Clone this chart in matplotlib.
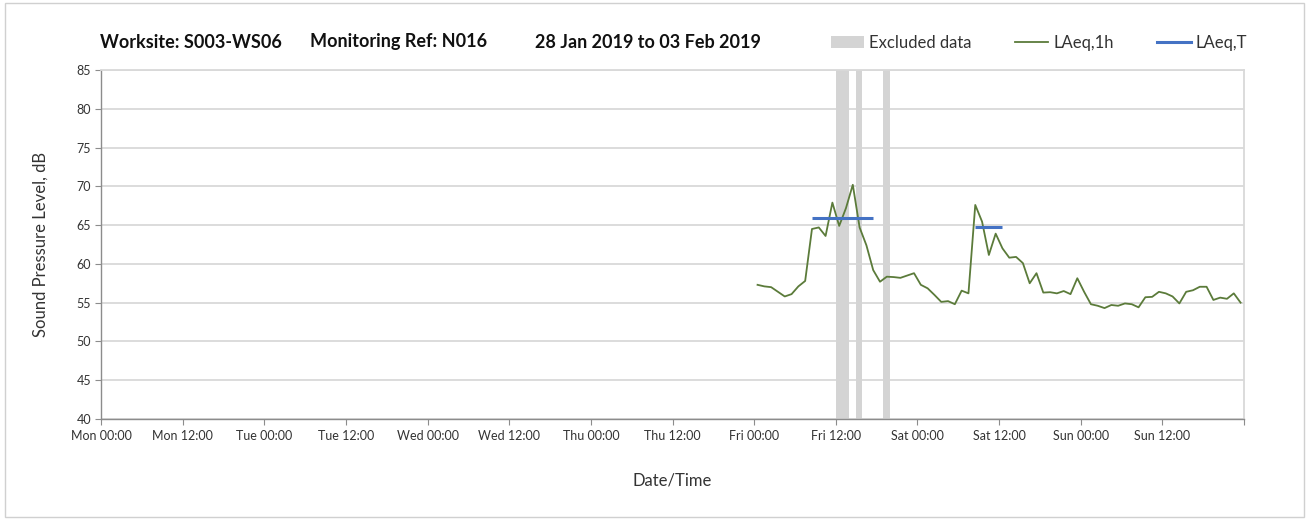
import numpy as np
import pandas as pd
import matplotlib
matplotlib.use("Agg")
import matplotlib.pyplot as plt
import matplotlib.dates as mdates
from matplotlib.patches import Patch, Rectangle
from matplotlib.lines import Line2D
from matplotlib.ticker import FuncFormatter

plt.rcParams['font.family'] = ['Lato', 'DejaVu Sans']

# Monitoring week
week_start = pd.Timestamp('2019-01-28 00:00')
week_end = pd.Timestamp('2019-02-04 00:00')

# Hourly LAeq,1h (plotted at the half hour), Fri 00:30 onwards
hourly_times = pd.date_range('2019-02-01 00:30', periods=72, freq='h')
laeq_1h = [
    57.3, 57.1, 57.0, 56.4, 55.8, 56.1, 57.1, 57.8, 64.5, 64.7, 63.6, 67.9,
    64.9, 67.2, 70.2, 64.7, 62.4, 59.2, 57.7, 58.35, 58.3, 58.2, 58.5, 58.8,
    57.3, 56.85, 56.0, 55.1, 55.2, 54.8, 56.55, 56.2, 67.6, 65.45, 61.15, 63.9,
    62.0, 60.8, 60.9, 60.1, 57.5, 58.8, 56.3, 56.35, 56.2, 56.5, 56.1, 58.15,
    56.4, 54.8, 54.6, 54.3, 54.7, 54.6, 54.9, 54.8, 54.4, 55.7, 55.75, 56.4,
    56.2, 55.8, 54.9, 56.4, 56.6, 57.05, 57.05, 55.35, 55.65, 55.5, 56.2, 55.0,
]

# LAeq,T periods (start, end, level)
period_starts = ['2019-02-01 08:30', '2019-02-02 08:30']
period_ends = ['2019-02-01 17:30', '2019-02-02 12:30']
laeq_t = [65.9, 64.7]

# Excluded data windows
excluded_starts = ['2019-02-01 12:00', '2019-02-01 15:00', '2019-02-01 19:00']
excluded_ends = ['2019-02-01 14:00', '2019-02-01 15:55', '2019-02-01 19:55']

# Header pieces
title_parts = ['Worksite: S003-WS06', 'Monitoring Ref: N016', '28 Jan 2019 to 03 Feb 2019']

green = '#5B7B3A'
blue = '#4472C4'
band_grey = '#D4D4D4'
grid_grey = '#D9D9D9'

fig = plt.figure(figsize=(13.09, 5.2), dpi=100)
ax = fig.add_axes([101 / 1309, 1 - 419 / 520, 1143 / 1309, 349 / 520])

# outer chart border
fig.patches.append(Rectangle((0.004, 0.006), 0.992, 0.988, transform=fig.transFigure,
                             fill=False, edgecolor='#D0D0D0', linewidth=1.0))

for s, e in zip(excluded_starts, excluded_ends):
    ax.axvspan(pd.Timestamp(s), pd.Timestamp(e), color=band_grey, lw=0, zorder=1)

ax.plot(hourly_times, laeq_1h, color=green, lw=1.3, zorder=3)

for s, e, v in zip(period_starts, period_ends, laeq_t):
    ax.plot([pd.Timestamp(s), pd.Timestamp(e)], [v, v], color=blue, lw=2.2,
            solid_capstyle='butt', zorder=4)

ax.set_xlim(week_start, week_end)
ax.set_ylim(40, 85)
ax.set_yticks(np.arange(40, 86, 5))

end_num = mdates.date2num(week_end)


def fmt_time(x, pos):
    # no label on the closing tick of the week
    if abs(x - end_num) < 1e-6:
        return ''
    return mdates.num2date(x).strftime('%a %H:%M')


ax.xaxis.set_major_locator(mdates.HourLocator(byhour=[0, 12]))
ax.xaxis.set_major_formatter(FuncFormatter(fmt_time))
ax.xaxis.set_minor_locator(mdates.DayLocator())

ax.grid(axis='y', color=grid_grey, lw=1.3, zorder=0)
ax.grid(axis='x', which='minor', color=grid_grey, lw=1.3, zorder=0)
ax.set_axisbelow(True)

for side in ['top', 'right']:
    ax.spines[side].set_color(grid_grey)
    ax.spines[side].set_linewidth(1.3)
for side in ['left', 'bottom']:
    ax.spines[side].set_color('#8C8C8C')
    ax.spines[side].set_linewidth(1.0)

ax.tick_params(axis='both', which='major', labelsize=9, colors='#333333',
               length=4, width=0.8, direction='out')
ax.tick_params(axis='x', which='major', color='#8C8C8C', pad=4)
ax.tick_params(axis='y', color='#8C8C8C', pad=3)
ax.tick_params(axis='x', which='minor', length=0)

ax.set_ylabel('Sound Pressure Level, dB', fontsize=12, color='#333333', labelpad=20)
ax.set_xlabel('Date/Time', fontsize=12, color='#333333', labelpad=22)

for txt, px in zip(title_parts, [100, 310, 535]):
    fig.text(px / 1309, 1 - 42 / 520, txt, fontsize=13, fontweight='bold',
             color='#111111', va='center', ha='left')

handles = [Patch(facecolor=band_grey, edgecolor='none'),
           Line2D([0], [0], color=green, lw=1.3),
           Line2D([0], [0], color=blue, lw=2.2)]
fig.legend(handles, ['Excluded data', 'LAeq,1h', 'LAeq,T'], ncol=3, frameon=False,
           loc='center right', bbox_to_anchor=(1262 / 1309, 1 - 43 / 520),
           fontsize=12, handlelength=2.0, handletextpad=0.3, columnspacing=2.6,
           labelcolor='#333333')

fig.savefig('out.png', dpi=100, facecolor='white')
